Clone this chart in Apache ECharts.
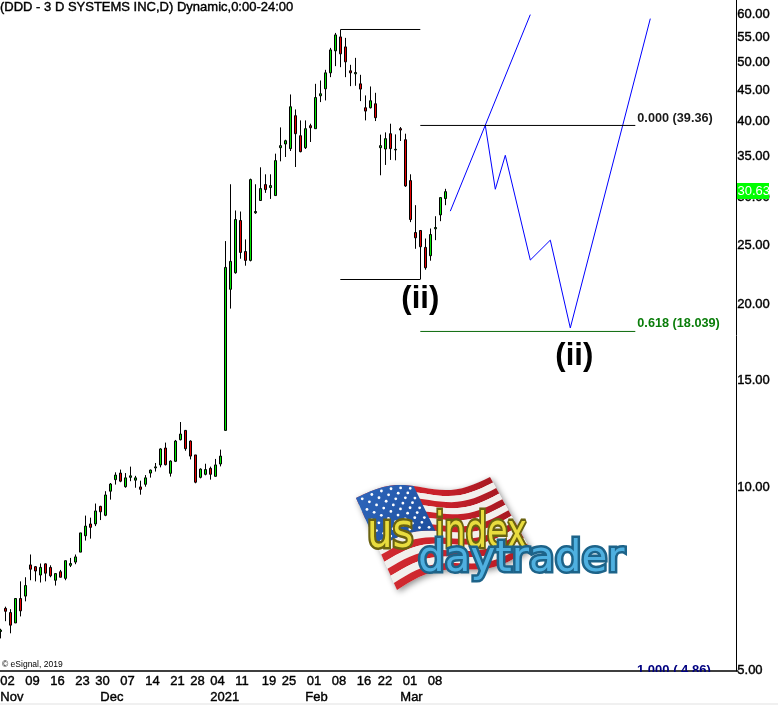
<!DOCTYPE html>
<html><head><meta charset="utf-8">
<style>html,body{margin:0;padding:0;background:#fff}#c{width:778px;height:705px}</style>
<script src="https://cdn.jsdelivr.net/npm/echarts@6/dist/echarts.min.js"></script></head>
<body><div id="c"></div><script>
// ---- data ----
const tradingDays = [
'2020-11-02','2020-11-03','2020-11-04','2020-11-05','2020-11-06','2020-11-09','2020-11-10','2020-11-11','2020-11-12','2020-11-13',
'2020-11-16','2020-11-17','2020-11-18','2020-11-19','2020-11-20','2020-11-23','2020-11-24','2020-11-25','2020-11-27','2020-11-30',
'2020-12-01','2020-12-02','2020-12-03','2020-12-04','2020-12-07','2020-12-08','2020-12-09','2020-12-10','2020-12-11','2020-12-14',
'2020-12-15','2020-12-16','2020-12-17','2020-12-18','2020-12-21','2020-12-22','2020-12-23','2020-12-24','2020-12-28','2020-12-29',
'2020-12-30','2020-12-31','2021-01-04','2021-01-05','2021-01-06','2021-01-07','2021-01-08','2021-01-11','2021-01-12','2021-01-13',
'2021-01-14','2021-01-15','2021-01-19','2021-01-20','2021-01-21','2021-01-22','2021-01-25','2021-01-26','2021-01-27','2021-01-28',
'2021-01-29','2021-02-01','2021-02-02','2021-02-03','2021-02-04','2021-02-05','2021-02-08','2021-02-09','2021-02-10','2021-02-11',
'2021-02-12','2021-02-16','2021-02-17','2021-02-18','2021-02-19','2021-02-22','2021-02-23','2021-02-24','2021-02-25','2021-02-26',
'2021-03-01','2021-03-02','2021-03-03','2021-03-04','2021-03-05','2021-03-08','2021-03-09','2021-03-10','2021-03-11','2021-03-12'];
const emptySlots = Array.from({length:58},(_,i)=>'slot'+(i+1));
const categories = tradingDays.concat(emptySlots);
const opens = [5.79,6.32,6.22,5.98,6.56,6.62,7.45,7.40,7.17,7.48,7.38,7.03,7.26,7.08,7.44,7.53,7.82,8.32,8.70,8.70,9.30,8.99,9.85,10.29,10.55,10.02,10.38,10.27,10.01,10.11,10.55,10.76,10.88,11.60,10.54,11.03,11.97,12.40,11.91,11.30,10.38,10.50,10.74,10.42,10.92,12.40,21.16,22.53,27.46,24.42,23.61,28.27,29.62,31.46,31.11,30.18,36.18,36.69,36.05,40.84,37.86,36.18,39.32,38.88,44.04,45.22,48.04,52.21,55.04,53.00,48.41,47.86,46.08,42.09,42.09,42.73,36.18,36.00,38.15,35.87,38.88,37.29,31.94,26.24,26.44,24.80,24.03,26.61,28.05,29.84];
const closes = [5.82,6.25,5.93,6.56,6.26,6.89,7.33,7.28,7.38,7.22,7.15,7.21,7.11,7.57,7.49,7.68,8.41,8.63,8.59,9.14,9.11,9.71,10.12,10.47,10.23,10.36,10.44,10.36,9.92,10.36,10.67,10.80,11.56,10.89,11.04,11.91,12.23,11.57,11.25,10.19,10.71,10.69,10.50,10.88,11.25,22.99,23.52,27.56,24.33,23.61,32.06,28.41,30.99,30.87,31.34,34.45,36.46,37.15,42.25,38.15,35.64,38.88,39.02,43.75,44.38,48.04,52.40,55.46,51.62,50.08,48.04,48.10,45.17,41.56,43.22,40.53,36.46,37.44,36.05,35.96,38.68,31.30,27.56,25.72,24.86,22.96,26.04,26.74,29.95,30.63];
const lows = [5.64,6.02,5.75,5.98,6.13,6.49,7.03,7.00,6.97,7.00,7.11,6.89,7.11,7.03,7.39,7.47,7.82,8.17,8.23,8.63,8.83,8.96,9.54,10.10,10.19,9.98,10.23,9.98,9.72,10.02,10.37,10.61,10.78,10.86,10.41,11.00,11.94,11.48,11.11,10.15,10.34,10.46,10.29,10.41,10.82,12.40,19.67,22.45,23.76,23.14,23.52,28.16,29.62,30.49,29.80,30.18,34.36,34.93,35.73,33.63,35.55,36.00,36.97,38.88,43.00,43.27,47.26,49.27,49.08,47.26,45.68,45.74,43.16,40.12,41.98,40.02,32.59,33.89,34.54,34.49,37.11,31.19,27.29,24.67,21.97,22.79,23.58,25.49,27.39,29.10];
const highs = [5.85,6.36,6.30,6.56,7.00,7.11,7.75,7.42,7.49,7.49,7.44,7.21,7.31,7.57,7.65,7.75,8.41,8.98,8.91,9.40,9.32,9.85,10.16,10.58,10.69,10.55,10.81,10.44,10.25,10.47,10.69,10.96,11.59,11.84,11.07,11.96,12.80,12.42,11.94,11.30,10.74,10.93,10.81,11.13,11.53,25.40,31.50,28.52,28.41,25.56,32.18,31.50,33.59,32.71,32.71,35.37,39.07,37.29,44.26,41.82,40.12,40.12,39.62,46.08,46.67,48.59,52.80,55.88,56.52,54.84,49.52,50.84,47.68,44.10,45.62,44.54,38.01,38.34,39.62,38.05,39.12,38.15,32.71,29.10,26.47,25.65,26.64,27.91,29.95,30.96];
const projectionA = [[90,28.45],[106,59.89]];
const projectionB = [[97,39.37],[99,30.91],[101,35.15],[106,23.64],[110,25.49],[114,18.28],[130,58.99]];
const swingHigh = [[68,56.61],[84,56.61]];
const swingLow = [[68,21.96],[84,21.96]];
const fib000 = [[84,39.36],[127,39.36]];
const fib618 = [[84,18.039],[127,18.039]];
const waveMarks = [[84,20.48],[114,16.51]];
const yTicks = [5,10,15,20,25,30,35,40,45,50,55,60];
const dayLabels = {0:'02',5:'09',10:'16',15:'23',19:'30',24:'07',29:'14',34:'21',38:'28',42:'04',47:'11',52:'19',56:'25',61:'01',66:'08',71:'16',75:'22',80:'01',85:'08'};
const monthLabels = {0:'Nov',20:'Dec',42:'2021',61:'Feb',80:'Mar'};
const lastPrice = 30.63;
const titleText = '(DDD - 3 D SYSTEMS INC,D) Dynamic,0:00-24:00';

// ---- helpers ----
const FONT = '"Liberation Sans", Arial, sans-serif';
const ohlc = opens.map((o,i)=>[o,closes[i],lows[i],highs[i]]);
function dayFmt(v,i){
  const t = dayLabels[i]; if(!t) return '';
  const s = i>=75 ? 'c' : i>=52 ? 'b' : 'a';
  return '{'+s+'|'+t+'}';
}
const txt = {fontFamily:FONT,fontSize:13,color:'#000',fontWeight:'normal',textBorderColor:'#000',textBorderWidth:0.4};
const line = (data,color,extra)=>Object.assign({type:'line',data,symbol:'none',silent:true,animation:false,
  lineStyle:{color,width:1},itemStyle:{color},z:3},extra||{});

// ---- logo, built from simple shapes ----
function logo(){
  const els=[];
  const TL=[356,498],TR=[490,477],BR=[530,549],BL=[397,590];
  const pt=(u,v)=>{
    const x=(1-v)*((1-u)*TL[0]+u*TR[0])+v*((1-u)*BL[0]+u*BR[0]);
    const y=(1-v)*((1-u)*TL[1]+u*TR[1])+v*((1-u)*BL[1]+u*BR[1]);
    return [x, y-7*Math.sin(2*Math.PI*u)];
  };
  const band=(u0,u1,v0,v1)=>{
    const a=[],b=[];
    for(let i=0;i<=24;i++){const u=u0+(u1-u0)*i/24;a.push(pt(u,v0));b.unshift(pt(u,v1));}
    return a.concat(b);
  };
  els.push({type:'polygon',shape:{points:band(0,1,0,1)},style:{fill:'#fff',shadowBlur:6,shadowColor:'rgba(0,0,0,.45)',shadowOffsetX:2,shadowOffsetY:2},z:1});
  for(let s=0;s<13;s++){
    els.push({type:'polygon',shape:{points:band(0,1,s/13,(s+1)/13)},
      style:{fill:s%2?'#f2efec':{type:'linear',x:0,y:0,x2:1,y2:0,colorStops:[{offset:0,color:'#d02a30'},{offset:.6,color:'#c9202a'},{offset:1,color:'#a81a22'}]}},z:2});
  }
  els.push({type:'polygon',shape:{points:band(0,.43,0,7/13)},style:{fill:{type:'linear',x:0,y:0,x2:1,y2:1,colorStops:[{offset:0,color:'#2f67bd'},{offset:1,color:'#1b4c9a'}]}},z:3});
  for(let r=0;r<9;r++){
    const n=r%2?5:6;
    for(let c=0;c<n;c++){
      const p=pt((c+(r%2?1:.5))/6*.43,(r+.6)/9.3*(7/13));
      els.push({type:'circle',shape:{cx:p[0],cy:p[1],r:1.4},style:{fill:'#fff'},z:4});
    }
  }
  const word=(t,x,y,size,sx,fill,stroke)=>({type:'text',x,y,scaleX:sx,z:6,
    style:{text:t,fill,stroke,lineWidth:5,strokeFirst:true,font:size+'px "DejaVu Sans", sans-serif',
      shadowBlur:4,shadowColor:'rgba(0,0,0,.4)',shadowOffsetX:1,shadowOffsetY:2}});
  els.push(word('us',367,511,48,.84,'#e8dc3e','#6a6210'));
  els.push(word('index',435,511,48,.70,'#e8dc3e','#6a6210'));
  els.push(word('daytrader',418,539,42,1,'#4fb0e0','#1d6389'));
  return els;
}

const chart = echarts.init(document.getElementById('c'),null,{renderer:'canvas'});
chart.setOption({
  animation:false,
  backgroundColor:'#fff',
  title:{text:titleText,left:0,top:0,padding:0,textStyle:Object.assign({},txt,{lineHeight:14})},
  grid:{left:-2.2,right:40.2,top:0,height:671,outerBoundsMode:'none',containLabel:false},
  xAxis:[
    {type:'category',data:categories,boundaryGap:true,
     axisLine:{lineStyle:{color:'#000',width:1.5}},axisTick:{show:false},splitLine:{show:false},
     axisLabel:{interval:(i)=>dayLabels[i]!==undefined,formatter:dayFmt,hideOverlap:false,align:'left',margin:4,
       rich:{a:Object.assign({},txt),b:Object.assign({},txt,{padding:[0,0,0,1.5]}),c:Object.assign({},txt,{padding:[0,0,0,2.5]})}}},
    {type:'category',data:categories,boundaryGap:true,position:'bottom',offset:16,
     axisLine:{show:false},axisTick:{show:false},splitLine:{show:false},
     axisLabel:Object.assign({interval:(i)=>monthLabels[i]!==undefined,formatter:(v,i)=>monthLabels[i]||'',align:'left',margin:4,hideOverlap:false},txt)}
  ],
  yAxis:{type:'log',logBase:10,min:4.985,max:63.3,position:'right',offset:-1.5,
    axisLine:{show:true,lineStyle:{color:'#000',width:1}},axisTick:{show:false},splitLine:{show:false},minorTick:{show:false},
    axisLabel:Object.assign({customValues:yTicks,formatter:(v)=>Number(v).toFixed(2),margin:1,align:'left',hideOverlap:false,padding:[2,0,0,0]},txt)},
  series:[
    {type:'candlestick',data:ohlc,barWidth:3,animation:false,silent:true,z:2,
      itemStyle:{color:'#00e600',color0:'#e60000',borderColor:'#000',borderColor0:'#000',borderWidth:1}},
    line(projectionA,'#0000ff'),
    line(projectionB,'#0000ff'),
    line(swingHigh,'#000'),
    line(swingLow,'#000'),
    line(fib000,'#000',{endLabel:{show:true,formatter:'0.000 (39.36)',distance:2,offset:[0,-7],fontFamily:FONT,fontSize:12.7,fontWeight:'bold',color:'#1a1a1a'}}),
    line(fib618,'#0a6a0a',{endLabel:{show:true,formatter:'0.618 (18.039)',distance:2,offset:[0,-8],fontFamily:FONT,fontSize:12.7,fontWeight:'bold',color:'#0a7d0a'}}),
    {type:'scatter',data:waveMarks.map((v,i)=>({value:v,label:{offset:[i?4:0,2]}})),symbolSize:0,silent:true,animation:false,z:4,
      itemStyle:{opacity:1},
      label:{show:true,position:'inside',formatter:'(ii)',fontFamily:FONT,fontSize:31,fontWeight:'bold',color:'#000',opacity:1}}
  ],
  graphic:{elements:logo().concat([
    {type:'text',x:637,y:663.5,z:5,style:{text:'1.000 ( 4.86)',fill:'#000080',font:'bold 13px '+FONT}},
    {type:'rect',shape:{x:620,y:672,width:114,height:14},style:{fill:'#fff'},z:6},
    {type:'text',x:2,y:660,z:5,style:{text:'© eSignal, 2019',fill:'#000',font:'8.5px '+FONT}},
    {type:'rect',shape:{x:0,y:703,width:778,height:2},style:{fill:'#f0f0f0'},z:5},
    {type:'rect',shape:{x:737,y:183,width:32,height:16},style:{fill:'#00ff00'},z:20},
    {type:'text',x:737.5,y:184.5,z:21,style:{text:lastPrice.toFixed(2),fill:'#fff',font:'13px '+FONT}}
  ])}
});
</script></body></html>
